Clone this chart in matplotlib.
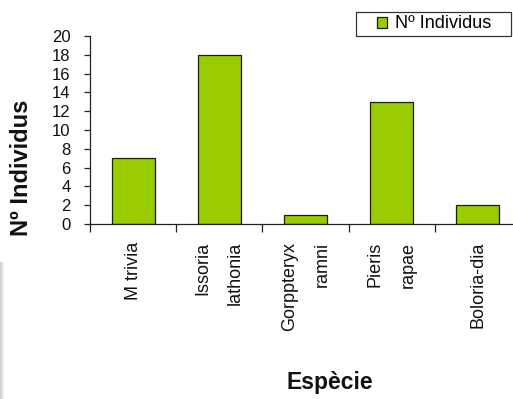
import numpy as np
import matplotlib
matplotlib.use("Agg")
import matplotlib.pyplot as plt
from matplotlib.patches import Rectangle

plt.rcParams['font.family'] = ['Liberation Sans', 'DejaVu Sans']

species = ["M trivia", "Issoria\nlathonia", "Gorppteryx\nramni", "Pieris\nrapae", "Boloria-dia"]
counts = [7, 18, 1, 13, 2]
y_ticks = [0, 2, 4, 6, 8, 10, 12, 14, 16, 18, 20]
series_name = "Nº Individus"

W, H = 513, 399
fig = plt.figure(figsize=(W / 100, H / 100), dpi=100)
fig.patch.set_facecolor("white")

# plot area (extends slightly past the right edge of the canvas)
left, right, top, bottom = 90, 521, 36, 224
ax = fig.add_axes([left / W, 1 - bottom / H, (right - left) / W, (bottom - top) / H])

x = np.arange(len(species))
bars = ax.bar(x, counts, width=0.5, color="#99CC00", edgecolor="#1a1a1a",
              linewidth=0.9, label=series_name, zorder=2)

ax.set_xlim(-0.5, len(species) - 0.5)
ax.set_ylim(0, 20)

for s in ("top", "right"):
    ax.spines[s].set_visible(False)
for s in ("left", "bottom"):
    ax.spines[s].set_color("#222222")
    ax.spines[s].set_linewidth(0.9)

ax.set_yticks(y_ticks)
ax.set_yticklabels([str(v) for v in y_ticks])
ax.tick_params(axis="y", direction="out", length=4, width=0.9, color="#222222",
               pad=10, labelsize=12, labelcolor="#111111")

# category labels at bar centres, tick marks on the category boundaries
ax.set_xticks(x)
ax.set_xticklabels(species, rotation=90, ha="center", va="top",
                   multialignment="right", linespacing=2.2)
ax.tick_params(axis="x", which="major", length=0, pad=13, labelsize=13,
               labelcolor="#111111")
ax.set_xticks(np.arange(-0.5, len(species)), minor=True)
ax.tick_params(axis="x", which="minor", direction="out", length=6, width=0.9,
               color="#222222")

fig.text(330 / W, 1 - 383 / H, "Espècie", ha="center", va="center",
         fontsize=16.5, fontweight="bold", color="#111111")
fig.text(22 / W, 1 - 168 / H, "Nº Individus", ha="center", va="center",
         rotation=90, fontsize=17, fontweight="bold", color="#111111")

# legend box drawn separately so its width can be set freely
fig.patches.append(Rectangle((356 / W, 1 - 36 / H), 155 / W, 24 / H,
                             transform=fig.transFigure, facecolor="white",
                             edgecolor="#333333", linewidth=0.9, zorder=3))
leg = fig.legend(handles=[bars], labels=[series_name], loc="center left",
                 bbox_to_anchor=(377 / W, 1 - 24 / H), frameon=False,
                 fontsize=13, handlelength=0.55, handleheight=0.55,
                 handletextpad=0.45, borderpad=0, borderaxespad=0)
leg.set_zorder(4)

# faint grey shading strip along the lower left border
grad = np.linspace(0.80, 1.0, 8)[None, :].repeat(2, axis=0)
strip = fig.add_axes([0, 0, 5 / W, (H - 262) / H])
strip.imshow(grad, cmap="gray", vmin=0, vmax=1, aspect="auto",
             interpolation="bilinear")
strip.axis("off")

fig.savefig("out.png", dpi=100, facecolor="white")
